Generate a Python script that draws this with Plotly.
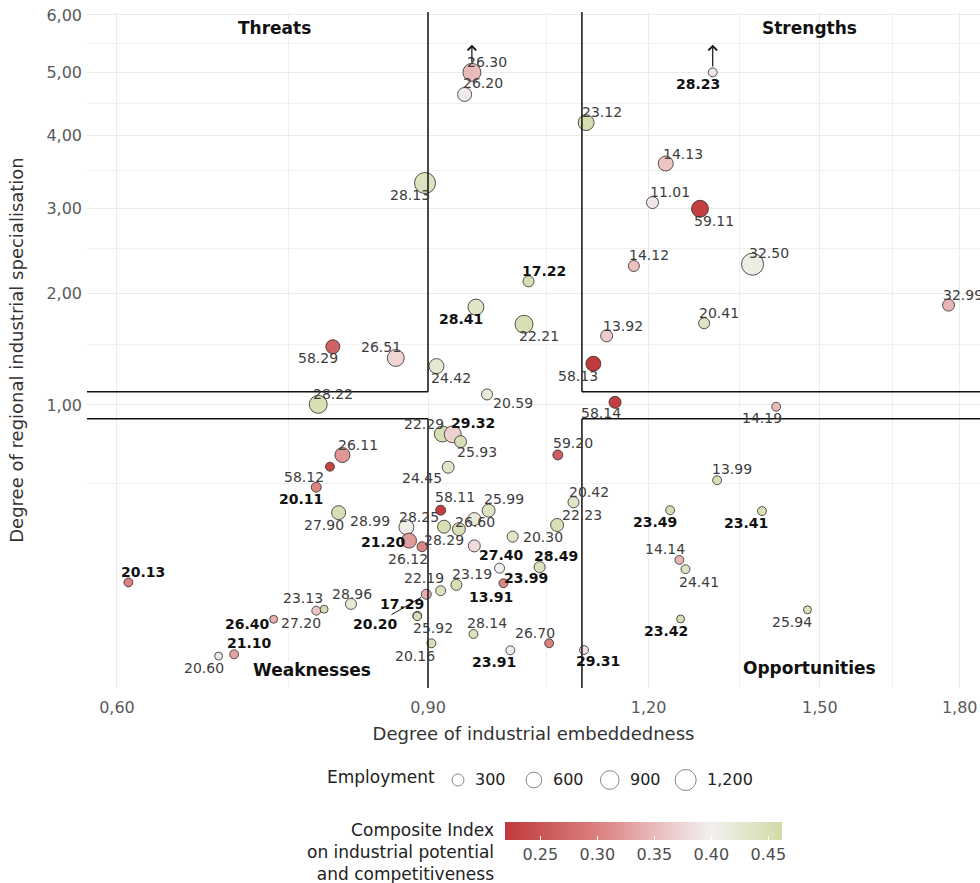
import numpy as np
import plotly.graph_objects as go

# ---------------------------------------------------------------- data
codes = [
    "26.30", "26.20", "23.12", "28.13", "28.23", "14.13", "11.01", "59.11",
    "14.12", "32.50", "32.99", "20.41", "17.22", "28.41", "22.21", "13.92",
    "58.13", "58.14", "14.19", "58.29", "26.51", "24.42", "20.59", "28.22",
    "22.29", "29.32", "25.93", "24.45", "59.20", "26.11", "58.12", "20.11",
    "27.90", "28.99", "28.25", "58.11", "26.60", "28.29", "25.99", "21.20",
    "26.12", "20.30", "27.40", "20.42", "22.23", "28.49", "23.99", "13.91",
    "23.19", "22.19", "20.20", "17.29", "25.92", "20.16", "28.96", "28.14",
    "26.70", "23.91", "29.31", "23.13", "27.20", "26.40", "21.10", "20.60",
    "20.13", "13.99", "23.49", "23.41", "14.14", "24.41", "25.94", "23.42",
]
embeddedness = [
    0.953, 0.944, 1.106, 0.8965, 1.3045, 1.227, 1.206, 1.283,
    1.177, 1.374, 1.774, 1.290, 1.026, 0.958, 1.020, 1.136,
    1.1165, 1.1485, 1.417, 0.795, 0.863, 0.910, 0.972, 0.780,
    0.917, 0.9295, 0.939, 0.924, 1.066, 0.805, 0.792, 0.778,
    0.801, 0.875, 0.919, 0.915, 0.956, 0.937, 0.974, 0.878,
    0.893, 1.005, 0.956, 1.088, 1.065, 1.041, 0.988, 0.993,
    0.934, 0.915, 0.898, 0.8875, 0.8875, 0.904, 0.814, 0.955,
    1.054, 1.002, 1.103, 0.778, 0.786, 0.736, 0.699, 0.685,
    0.609, 1.312, 1.234, 1.391, 1.249, 1.259, 1.476, 1.251,
]
specialisation = [
    5.00, 4.64, 4.20, 3.33, 5.00, 3.60, 3.07, 2.99,
    2.30, 2.32, 1.88, 1.70, 2.13, 1.86, 1.69, 1.58,
    1.33, 1.02, 0.987, 1.48, 1.38, 1.31, 1.08, 1.005,
    0.796, 0.794, 0.746, 0.591, 0.663, 0.663, 0.594, 0.482,
    0.360, 0.298, 0.300, 0.371, 0.332, 0.290, 0.369, 0.246,
    0.224, 0.261, 0.227, 0.408, 0.307, 0.158, 0.155, 0.114,
    0.110, 0.096, 0.088, 0.047, 0.046, 0.0131, 0.068, 0.0222,
    0.0131, 0.0078, 0.0080, 0.0555, 0.058, 0.0415, 0.0054, 0.0045,
    0.116, 0.519, 0.371, 0.367, 0.180, 0.152, 0.057, 0.042,
]
employment = [
    830, 450, 620, 1200, 130, 530, 300, 720,
    240, 1340, 300, 240, 240, 620, 830, 300,
    530, 300, 130, 450, 720, 530, 240, 830,
    620, 720, 300, 300, 180, 530, 130, 180,
    450, 530, 370, 180, 370, 370, 370, 530,
    180, 240, 300, 240, 370, 240, 180, 130,
    240, 180, 180, 130, 110, 130, 240, 130,
    130, 130, 130, 130, 90, 90, 130, 90,
    130, 130, 130, 130, 130, 130, 90, 90,
]
composite_index = [
    0.350, 0.395, 0.455, 0.440, 0.390, 0.360, 0.390, 0.225,
    0.355, 0.410, 0.345, 0.440, 0.450, 0.435, 0.450, 0.365,
    0.220, 0.225, 0.350, 0.265, 0.375, 0.425, 0.420, 0.450,
    0.450, 0.370, 0.450, 0.435, 0.260, 0.320, 0.230, 0.305,
    0.450, 0.405, 0.450, 0.225, 0.420, 0.450, 0.440, 0.325,
    0.305, 0.435, 0.380, 0.435, 0.450, 0.440, 0.400, 0.305,
    0.450, 0.440, 0.340, 0.450, 0.450, 0.450, 0.420, 0.445,
    0.300, 0.395, 0.385, 0.360, 0.450, 0.340, 0.330, 0.390,
    0.300, 0.450, 0.450, 0.450, 0.345, 0.440, 0.445, 0.450,
]
# sectors whose code is set in bold
bold_codes = {
    "28.23", "17.22", "28.41", "29.32", "20.11", "21.20", "27.40", "28.49",
    "23.99", "13.91", "17.29", "20.20", "23.91", "29.31", "20.13", "26.40",
    "21.10", "23.49", "23.41", "23.42",
}
# specialisation is capped at the top of the axis for these sectors
capped_codes = {"26.30", "28.23"}

size_breaks = [300, 600, 900, 1200]
x_ticks = [0.60, 0.90, 1.20, 1.50, 1.80]
x_minor = [0.75, 1.05, 1.35, 1.65]
y_ticks = [1, 2, 3, 4, 5, 6]
y_minor = [0.5, 1.5, 2.5, 3.5, 4.5, 5.5]
ci_ticks = [0.25, 0.30, 0.35, 0.40, 0.45]
quadrants = ["Threats", "Strengths", "Weaknesses", "Opportunities"]
threshold_low, threshold_high = 0.9, 1.1

# label placement relative to each point (px right, px down)
label_offsets = {
    "26.30": (15, -10), "26.20": (18, -11), "23.12": (16, -11), "28.13": (-15, 12),
    "28.23": (-15, 12), "14.13": (17, -10), "11.01": (17, -11), "59.11": (14, 12),
    "14.12": (15, -11), "32.50": (16, -11), "32.99": (14, -10), "20.41": (15, -10),
    "17.22": (15, -10), "28.41": (-15, 12), "22.21": (15, 12), "13.92": (16, -10),
    "58.13": (-15, 12), "58.14": (-14, 11), "14.19": (-14, 11), "58.29": (-15, 11),
    "26.51": (-15, -11), "24.42": (15, 12), "20.59": (26, 9), "28.22": (15, -10),
    "22.29": (-18, -10), "29.32": (20, -11), "25.93": (16, 10), "24.45": (-26, 11),
    "59.20": (15, -12), "26.11": (16, -10), "58.12": (-26, 10), "20.11": (-15, 12),
    "27.90": (-15, 12), "28.99": (-36, -6), "28.25": (-25, -10), "58.11": (14, -13),
    "26.60": (1, 3), "28.29": (-15, 11), "25.99": (15, -12), "21.20": (-26, 1),
    "26.12": (-14, 12), "20.30": (30, 0), "27.40": (27, 9), "20.42": (15, -10),
    "22.23": (25, -10), "28.49": (16, -11), "23.99": (26, 10), "13.91": (-12, 14),
    "23.19": (16, -11), "22.19": (-17, -13), "17.29": (-15, -12), "25.92": (16, 12),
    "20.16": (-16, 13), "28.96": (1, -10), "28.14": (13, -11), "26.70": (-14, -10),
    "23.91": (-16, 12), "29.31": (14, 11), "23.13": (-13, -13), "27.20": (-23, 14),
    "26.40": (-26, 5), "21.10": (15, -11), "20.60": (-15, 12), "20.13": (15, -10),
    "13.99": (15, -11), "23.49": (-15, 12), "23.41": (-16, 12), "14.14": (-14, -11),
    "24.41": (14, 13), "25.94": (-15, 12), "23.42": (-15, 12),
}
leader_labels = {"20.20": (-51, 30)}

# ---------------------------------------------------------------- styling
FONT = "DejaVu Sans"
W, H = 980, 883
ML, MT = 87, 12
PLOT_W = W - ML
PLOT_H = H - MT
panel_bottom_px = 688


def px_to_paper(px, py):
    return (px - ML) / PLOT_W, (H - py) / PLOT_H


def marker_px(emp):
    return 3.0 + 0.52 * np.sqrt(np.asarray(emp, dtype=float))


x_range = [np.log10(0.577), np.log10(1.8483)]
y_range = [-0.0517, 2.4604]          # axis runs on the square root of specialisation
arrow_tip = 5.47

colorscale = [
    [0.00, "#C0393B"],
    [0.35, "#DC8483"],
    [0.60, "#EECBCB"],
    [0.745, "#F2F0EF"],
    [1.00, "#D3DBA6"],
]
ci_min, ci_max = 0.219, 0.462

sx = np.asarray(embeddedness)
sy = np.sqrt(np.asarray(specialisation))
sizes = marker_px(employment)

fig = go.Figure()

fig.add_trace(go.Scatter(
    x=sx, y=sy, mode="markers",
    marker=dict(
        size=sizes, color=composite_index, colorscale=colorscale,
        cmin=ci_min, cmax=ci_max, opacity=1,
        line=dict(color="#2b2b2b", width=0.8),
        colorbar=dict(
            orientation="h", thickness=18, lenmode="pixels", len=277,
            x=(643.5 - ML) / PLOT_W, xanchor="center",
            y=px_to_paper(0, 822)[1], yanchor="top",
            xpad=0, ypad=0, outlinewidth=0,
            tickvals=ci_ticks, ticktext=[f"{v:.2f}" for v in ci_ticks],
            ticks="inside", ticklen=4, tickcolor="white", tickwidth=1,
            tickfont=dict(family=FONT, size=16, color="#4d4d4d"),
        ),
    ),
    hoverinfo="skip", showlegend=False,
))

# size key on its own small axis pair
fig.add_trace(go.Scatter(
    x=list(range(len(size_breaks))), y=[0] * len(size_breaks), mode="markers",
    marker=dict(size=marker_px(size_breaks), color="white",
                line=dict(color="#2b2b2b", width=0.8)),
    xaxis="x2", yaxis="y2", hoverinfo="skip", showlegend=False,
))

main_dom_bottom = (H - panel_bottom_px) / PLOT_H
key_y = (H - 780) / PLOT_H

fig.update_layout(
    width=W, height=H,
    margin=dict(l=ML, r=0, t=MT, b=0),
    paper_bgcolor="white", plot_bgcolor="white",
    font=dict(family=FONT, color="#333333"),
    xaxis=dict(
        type="log", range=x_range, domain=[0, 1],
        tickvals=x_ticks, ticktext=[f"{v:.2f}".replace(".", ",") for v in x_ticks],
        tickfont=dict(size=16, color="#5a5a5a"), ticklabelstandoff=8,
        showgrid=True, gridcolor="#EBEBEB", gridwidth=1.1,
        minor=dict(tickvals=x_minor, showgrid=True, gridcolor="#F0F0F0", gridwidth=0.8),
        zeroline=False, showline=False, ticks="",
        title=dict(text="Degree of industrial embeddedness",
                   font=dict(size=18, color="#333333"), standoff=11),
        anchor="y",
    ),
    yaxis=dict(
        range=y_range, domain=[main_dom_bottom, 1],
        tickvals=np.sqrt(y_ticks), ticktext=[f"{v:.2f}".replace(".", ",") for v in y_ticks],
        tickfont=dict(size=16, color="#5a5a5a"), ticklabelstandoff=4,
        showgrid=True, gridcolor="#EBEBEB", gridwidth=1.1,
        minor=dict(tickvals=np.sqrt(y_minor), showgrid=True, gridcolor="#F0F0F0", gridwidth=0.8),
        zeroline=False, showline=False, ticks="",
        title=dict(text="Degree of regional industrial specialisation",
                   font=dict(size=18, color="#333333"), standoff=18),
        anchor="x",
    ),
    xaxis2=dict(domain=[0, 1], range=[-4.888, 6.878], visible=False, anchor="y2"),
    yaxis2=dict(domain=[key_y - 0.03, key_y + 0.03], range=[-1, 1], visible=False, anchor="x2"),
)

# quadrant boundaries
x_lo, x_hi = 10 ** x_range[0], 10 ** x_range[1]
y_lo, y_hi = y_range
s_low, s_high = np.sqrt(threshold_low), np.sqrt(threshold_high)
segments = [
    (threshold_low, s_high, threshold_low, y_hi),
    (x_lo, s_high, threshold_low, s_high),
    (threshold_high, s_high, threshold_high, y_hi),
    (threshold_high, s_high, x_hi, s_high),
    (threshold_low, y_lo, threshold_low, s_low),
    (x_lo, s_low, threshold_low, s_low),
    (threshold_high, y_lo, threshold_high, s_low),
    (threshold_high, s_low, x_hi, s_low),
]
for x0, y0, x1, y1 in segments:
    fig.add_shape(type="line", xref="x", yref="y", x0=x0, y0=y0, x1=x1, y1=y1,
                  line=dict(color="#111111", width=1.5), layer="above")

# point labels
annotations = []
for code, xv, yv, sz in zip(codes, sx, sy, sizes):
    bold = code in bold_codes
    txt = f"<b>{code}</b>" if bold else code
    col = "#111111" if bold else "#3d3d3d"
    if code in leader_labels:
        dx, dy = leader_labels[code]
        annotations.append(dict(
            x=np.log10(xv), y=yv, xref="x", yref="y", text=txt,
            showarrow=True, arrowhead=0, arrowwidth=1, arrowcolor="#111111",
            ax=dx, ay=dy, standoff=sz / 2 + 1,
            font=dict(family=FONT, size=14, color=col)))
        continue
    dx, dy = label_offsets.get(code, (12, -10))
    annotations.append(dict(
        x=np.log10(xv), y=yv, xref="x", yref="y", text=txt, showarrow=False,
        xanchor="center", yanchor="middle",
        xshift=dx, yshift=-dy, font=dict(family=FONT, size=14, color=col)))

# arrows for values beyond the top of the axis
for code, xv, yv, sz in zip(codes, sx, sy, sizes):
    if code in capped_codes:
        annotations.append(dict(
            x=np.log10(xv), y=np.sqrt(arrow_tip), xref="x", yref="y",
            ax=np.log10(xv), ay=yv, axref="x", ayref="y", text="",
            showarrow=True, arrowhead=4, arrowsize=1.4, arrowwidth=1.2,
            arrowcolor="#111111", startstandoff=sz / 2, standoff=0))

# quadrant titles
quad_pos = [(274, 28), (809, 28), (312, 670), (809, 668)]
for name, (qx, qy) in zip(quadrants, quad_pos):
    px_, py_ = px_to_paper(qx, qy)
    annotations.append(dict(
        x=px_, y=py_, xref="paper", yref="paper", text=f"<b>{name}</b>",
        xanchor="center", yanchor="middle",
        showarrow=False, font=dict(family=FONT, size=17, color="#111111")))

# size key texts
ex, ey = px_to_paper(437, 777)
annotations.append(dict(x=ex, y=ey, xref="paper", yref="paper", text="Employment",
                        xanchor="right", yanchor="middle", showarrow=False,
                        font=dict(family=FONT, size=17, color="#222222")))
for i, b in enumerate(size_breaks):
    annotations.append(dict(x=i, y=0, xref="x2", yref="y2", text=f"{b:,}",
                            xanchor="left", yanchor="middle",
                            xshift=marker_px(b) / 2 + 9, showarrow=False,
                            font=dict(family=FONT, size=16, color="#222222")))

# colour key title
cx, cy = px_to_paper(496, 852)
annotations.append(dict(
    x=cx, y=cy, xref="paper", yref="paper", xanchor="right", yanchor="middle",
    align="right",
    text="Composite Index<br>on industrial potential<br>and competitiveness",
    showarrow=False, font=dict(family=FONT, size=17, color="#222222")))

fig.update_layout(annotations=annotations)
fig.write_html("out.html")
